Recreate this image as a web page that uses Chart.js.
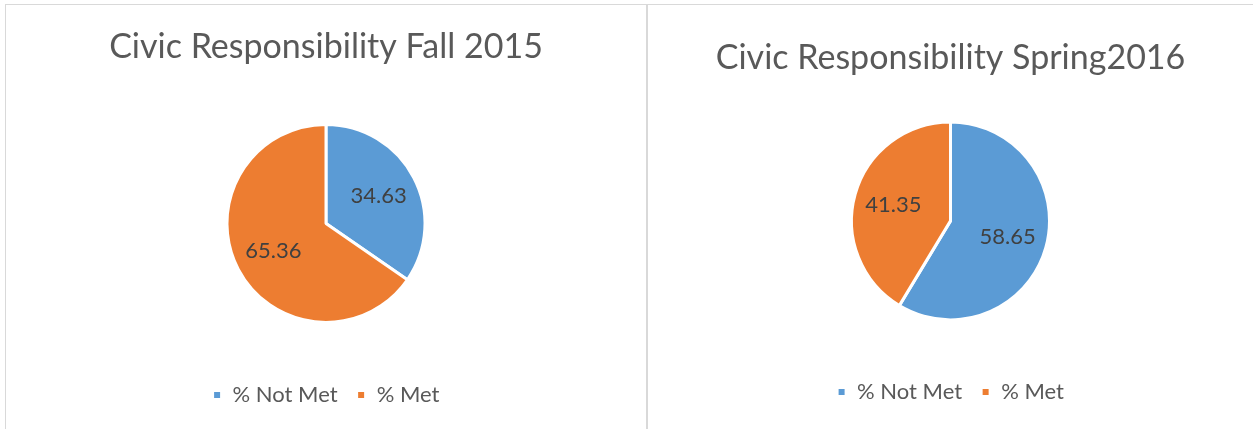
<!DOCTYPE html>
<html>
<head>
<meta charset="utf-8">
<script src="https://cdn.jsdelivr.net/npm/chart.js@4/dist/chart.umd.min.js"></script>
<style>
  html, body { margin: 0; padding: 0; background: #fff; }
  body { width: 1253px; height: 429px; position: relative; overflow: hidden; }
  .line { position: absolute; background: #d9d9d9; }
  .panel { position: absolute; top: 5px; height: 424px; }
</style>
</head>
<body>
<div class="line" style="left:5px; top:4px; width:1248px; height:1px;"></div>
<div class="line" style="left:5px; top:4px; width:1px; height:425px;"></div>
<div class="line" style="left:646px; top:4px; width:2px; height:425px;"></div>
<div class="panel" style="left:6px; width:640px;"><canvas id="fallChart" width="640" height="424"></canvas></div>
<div class="panel" style="left:648px; width:605px;"><canvas id="springChart" width="605" height="424"></canvas></div>
<script>
const categories = ['% Not Met', '% Met'];
const fallValues = [34.63, 65.36];
const springValues = [58.65, 41.35];
const titles = ['Civic Responsibility Fall 2015', 'Civic Responsibility Spring2016'];
const sliceColors = ['#5B9BD5', '#ED7D31'];

const fontFamily = "Lato, 'Open Sans', sans-serif";

// draw the value inside each slice
const sliceLabels = {
    id: 'sliceLabels',
    afterDatasetsDraw(chart) {
        const ctx = chart.ctx;
        const meta = chart.getDatasetMeta(0);
        const values = chart.data.datasets[0].data;
        ctx.save();
        ctx.font = '22px ' + fontFamily;
        ctx.fillStyle = '#404040';
        ctx.textAlign = 'center';
        ctx.textBaseline = 'middle';
        meta.data.forEach((arc, i) => {
            const p = arc.getProps(['x', 'y', 'startAngle', 'endAngle', 'outerRadius']);
            const mid = (p.startAngle + p.endAngle) / 2;
            const r = p.outerRadius * 0.6;
            ctx.fillText(values[i].toFixed(2), p.x + Math.cos(mid) * r, p.y + Math.sin(mid) * r);
        });
        ctx.restore();
    }
};

const makePie = (id, values, title, titleTop, titleBottom, legendBottom) => {
    const ctx = document.getElementById(id).getContext('2d');
    return new Chart(ctx, {
        type: 'pie',
        data: {
            labels: categories,
            datasets: [{
                data: values,
                backgroundColor: sliceColors,
                borderColor: '#ffffff',
                borderWidth: 3,
                radius: 99
            }]
        },
        options: {
            responsive: false,
            animation: false,
            events: [],
            layout: { padding: { top: 0, bottom: legendBottom } },
            plugins: {
                title: {
                    display: true,
                    text: title,
                    color: '#595959',
                    font: { family: fontFamily, size: 34, weight: 'normal' },
                    padding: { top: titleTop, bottom: titleBottom }
                },
                legend: {
                    position: 'bottom',
                    labels: {
                        color: '#595959',
                        font: { family: fontFamily, size: 22 },
                        boxWidth: 9,
                        boxHeight: 9,
                        padding: 19
                    }
                },
                tooltip: { enabled: false }
            }
        },
        plugins: [sliceLabels]
    });
};

makePie('fallChart', fallValues, titles[0], 22, 14, 13);
makePie('springChart', springValues, titles[1], 33, 1, 16);
</script>
</body>
</html>
